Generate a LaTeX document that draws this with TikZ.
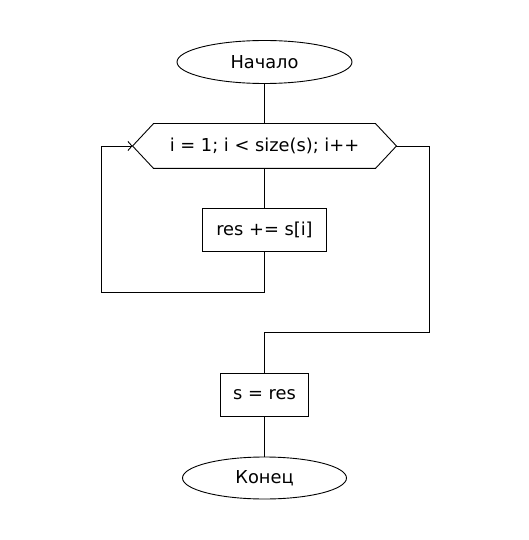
\documentclass[tikz,border=0pt]{standalone}
\usepackage{fontspec}
\setmainfont{DejaVu Sans}
\usetikzlibrary{shapes.geometric,arrows.meta,calc}
\begin{document}
\begin{tikzpicture}[x=1pt,y=-1pt,line width=0.9pt,
  every node/.style={font=\fontsize{17.8}{20}\selectfont},
  term/.style={draw,ellipse,inner sep=0pt,minimum width=175pt,minimum height=43pt},
  proc/.style={draw,rectangle,inner sep=0pt,minimum height=43pt},
  loopbox/.style={rectangle,inner sep=0pt,minimum width=221pt,minimum height=44pt}]
\useasboundingbox (0,0) rectangle (528,540);
\node[term] (start) at (264.5,62) {Начало};
\node[loopbox] (loop) at (264.5,146) {i = 1; i < size(s); i++};
\draw (loop.north west) -- (loop.north east) -- ($(loop.east)+(21,0)$) coordinate (le)
  -- (loop.south east) -- (loop.south west) -- ($(loop.west)+(-21,0)$) coordinate (lw) -- cycle;
\node[proc,minimum width=124pt] (body) at (264.5,229.5) {res += s[i]};
\node[proc,minimum width=88pt] (assign) at (264.5,394.5) {s = res};
\node[term,minimum width=164pt,minimum height=42pt] (end) at (264.5,478) {Конец};
\coordinate (bl) at (101,292);
\coordinate (rr) at (429,332);
\draw (start) -- (loop);
\draw (loop.south) -- (body.north);
\draw[-{Straight Barb[length=4pt,width=9pt]}] (body.south) |- (bl) |- (lw);
\draw (le) -| (rr) -| (assign.north);
\draw (assign) -- (end);
\end{tikzpicture}
\end{document}
